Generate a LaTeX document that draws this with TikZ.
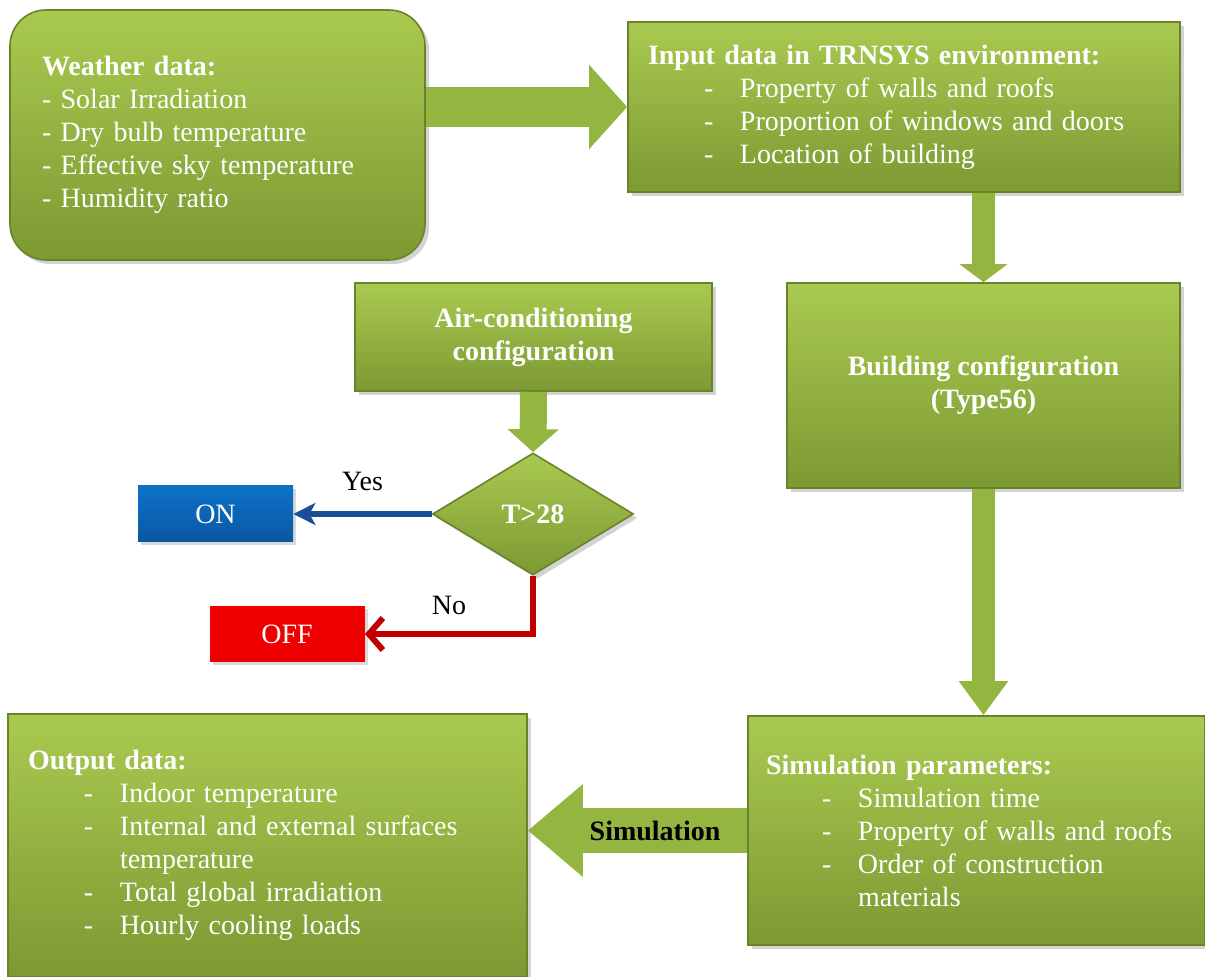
\documentclass[tikz,border=0pt]{standalone}
\usepackage{fontspec}
\setmainfont{Liberation Serif}
\usetikzlibrary{arrows.meta,shapes.geometric,shadows}
\definecolor{leaftop}{HTML}{A9CA50}
\definecolor{leafbot}{HTML}{7D9933}
\definecolor{leafedge}{HTML}{6A8229}
\definecolor{leaf}{HTML}{94B53F}
\definecolor{onblue}{HTML}{0D72C8}
\definecolor{onbluedark}{HTML}{0A58A2}
\definecolor{yesblue}{HTML}{1B4F9A}
\definecolor{offred}{HTML}{EE0000}
\definecolor{nored}{HTML}{C00000}
\newcommand{\basefont}{\fontsize{14}{16.5}\selectfont}
\newcommand{\itm}[1]{\hspace*{28pt}\makebox[18pt][l]{-}#1}
\newcommand{\cnt}[1]{\hspace*{46pt}#1}

\begin{document}
\begin{tikzpicture}[x=0.5pt,y=-0.5pt,
  box/.style={rectangle, top color=leaftop, bottom color=leafbot, draw=leafedge, line width=0.8pt,
    text=white, font=\basefont, inner sep=0pt,
    drop shadow={opacity=0.35, shadow xshift=2pt, shadow yshift=-2pt}},
  list/.style={box, align=left, inner xsep=10pt},
  title/.style={box, align=center, font=\basefont\bfseries},
  decision/.style={diamond, aspect=1.65, minimum width=100.5pt, minimum height=61pt, inner sep=0pt,
    top color=leaftop, bottom color=leafbot, draw=leafedge, line width=0.8pt,
    text=white, font=\basefont\bfseries,
    drop shadow={opacity=0.35, shadow xshift=2pt, shadow yshift=-2pt}},
  state/.style={rectangle, text=white, font=\basefont, minimum width=77.5pt, minimum height=28pt,
    drop shadow={opacity=0.3, shadow xshift=1.5pt, shadow yshift=-1.5pt}},
  fatarrow/.style n args={3}{line width=#1, draw=leaf, -{Triangle[width=#2,length=#3]}},
  label/.style={text=black, font=\basefont}
]
\useasboundingbox (0,0) rectangle (1205,977);

\node[list, rounded corners=18pt, inner xsep=16pt, text width=175.5pt, minimum height=125pt] (weather) at (217.5,135)
  {\textbf{Weather data:}\\- Solar Irradiation\\- Dry bulb temperature\\- Effective sky temperature\\- Humidity ratio};
\node[list, text width=256pt, minimum height=85pt] (input) at (904,107)
  {\textbf{Input data in TRNSYS environment:}\\\itm{Property of walls and roofs}\\\itm{Proportion of windows and doors}\\\itm{Location of building}};
\node[title, minimum width=196.5pt, minimum height=102.5pt] (building) at (983.5,385.5)
  {Building configuration\\(Type56)};
\node[title, minimum width=178.5pt, minimum height=54pt] (aircond) at (533.5,337)
  {Air-conditioning\\configuration};
\node[decision] (test) at (533,514) {T>28};
\node[state, top color=onblue, bottom color=onbluedark] (on) at (215.5,514) {ON};
\node[state, fill=offred] (off) at (287,634) {OFF};
\node[list, inner xsep=9pt, text width=210.5pt, minimum height=114.5pt] (sim) at (976.5,830.5)
  {\textbf{Simulation parameters:}\\\itm{Simulation time}\\\itm{Property of walls and roofs}\\\itm{Order of construction}\\\cnt{materials}};
\node[list, text width=239.5pt, minimum height=131.5pt] (output) at (267.5,845.5)
  {\textbf{Output data:}\\\itm{Indoor temperature}\\\itm{Internal and external surfaces}\\\cnt{temperature}\\\itm{Total global irradiation}\\\itm{Hourly cooling loads}};

\draw[fatarrow={20pt}{41pt}{19pt}] (weather.east |- input.west) -- (input.west);
\draw[fatarrow={11.5pt}{23.5pt}{9pt}] (input.south -| building.north) -- (building.north);
\draw[fatarrow={11.5pt}{23.5pt}{17pt}] (building.south) -- (building.south |- sim.north);
\draw[fatarrow={13.5pt}{25pt}{11.5pt}] (aircond.south) -- (test.north);
\draw[fatarrow={22.5pt}{44.5pt}{27.5pt}] (sim.west) -- node[pos=0.42, text=black, font=\basefont\bfseries] {Simulation} (sim.west -| output.east);

\draw[yesblue, line width=3pt, -{Stealth[length=11pt,width=11pt,inset=3pt]}] (test.west) -- node[label, above=7pt] {Yes} (test.west -| on.east);
\draw[nored, line width=3pt, -{Straight Barb[length=7pt,width=16pt]}] (test.south) |- node[label, pos=0.75, above=5pt] {No} (off.east);
\end{tikzpicture}
\end{document}
